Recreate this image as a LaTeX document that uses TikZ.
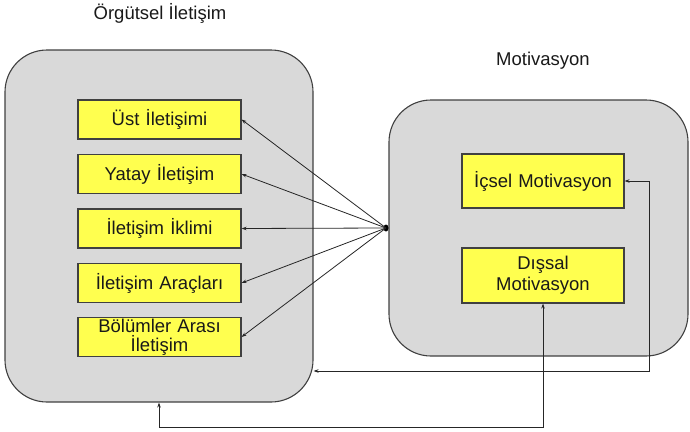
\documentclass[tikz,border=0pt]{standalone}
\usepackage{fontspec}
\setmainfont{Liberation Sans}
\usetikzlibrary{arrows.meta}
\definecolor{grp}{HTML}{D9D9D9}
\definecolor{yel}{HTML}{FFFF4F}
\definecolor{edge}{HTML}{404040}
\begin{document}
\begin{tikzpicture}[x=1pt,y=-1pt,
  txt/.style={font=\fontsize{18.5}{21}\selectfont, text=black!90},
  group/.style={draw=edge, line width=1.1pt, fill=grp, rounded corners=42pt, inner sep=0pt},
  item/.style={txt, draw=edge, line width=1.1pt, fill=yel, inner sep=0pt, align=center, text width=160pt, minimum width=163pt},
  arr/.style={draw=black!85, line width=0.8pt, -{Stealth[length=5pt,width=3.5pt]}},
  darr/.style={draw=black!85, line width=0.8pt, {Stealth[length=5pt,width=3.5pt]}-{Stealth[length=5pt,width=3.5pt]}}]
\useasboundingbox (0,0) rectangle (690,431);
% groups
\node[group, minimum width=308pt, minimum height=352pt] (org) at (159,226) {};
\node[group, minimum width=299pt, minimum height=256pt] (mot) at (538.5,228) {};
% titles
\node[txt] (t1) at (160,13) {Örgütsel İletişim};
\node[txt] (t2) at (543,61) {Motivasyon};
% left items
\node[item, minimum height=39pt] (u) at (159.5,119.5) {Üst İletişimi};
\node[item, minimum height=39pt] (y) at (159.5,174) {Yatay İletişim};
\node[item, minimum height=39pt] (k) at (159.5,228.5) {İletişim İklimi};
\node[item, minimum height=39pt] (a) at (159.5,283) {İletişim Araçları};
\node[item, minimum height=39pt] (b) at (159.5,337) {Bölümler Arası\\[-2pt]İletişim};
% right items
\node[item, minimum width=162pt, minimum height=54pt] (ic) at (543,181) {İçsel Motivasyon};
\node[item, minimum width=162pt, minimum height=55pt] (dis) at (543,275.5) {Dışsal\\Motivasyon};
% hub
\coordinate (hub) at (386,228);
\fill[black] (hub) ellipse [x radius=2.5pt, y radius=3.5pt];
\foreach \n in {u,y,k,a,b} \draw[arr] (hub) -- (\n.east);
% feedback lines
\coordinate (fa) at (649,371);
\coordinate (fb) at (543,427);
\draw[darr] (org.east |- fa) -- (fa) |- (ic.east);
\draw[darr] (org.south) |- (fb) -- (dis.south);
\end{tikzpicture}
\end{document}
